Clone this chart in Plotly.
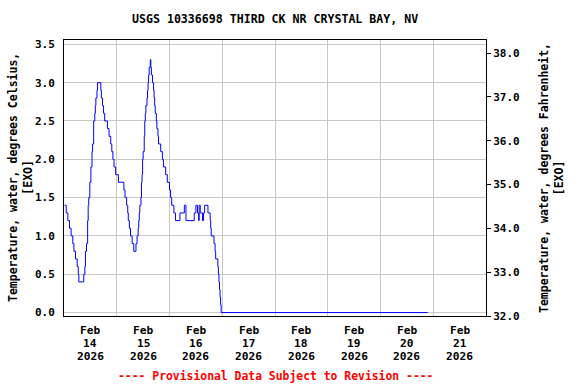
import plotly.graph_objects as go

# ---- data (15-min readings, water temperature, deg C) ----
times = [
    "2026-02-14 00:15", "2026-02-14 01:00", "2026-02-14 01:45", "2026-02-14 02:30",
    "2026-02-14 03:15", "2026-02-14 04:00", "2026-02-14 04:30", "2026-02-14 05:15",
    "2026-02-14 06:00", "2026-02-14 06:30", "2026-02-14 06:45", "2026-02-14 09:00",
    "2026-02-14 09:30", "2026-02-14 09:45", "2026-02-14 10:15", "2026-02-14 10:45",
    "2026-02-14 11:00", "2026-02-14 11:15", "2026-02-14 11:45", "2026-02-14 12:15",
    "2026-02-14 12:45", "2026-02-14 13:00", "2026-02-14 13:30", "2026-02-14 14:00",
    "2026-02-14 14:15", "2026-02-14 14:30", "2026-02-14 15:00", "2026-02-14 15:15",
    "2026-02-14 16:45", "2026-02-14 17:00", "2026-02-14 17:30", "2026-02-14 18:00",
    "2026-02-14 18:30", "2026-02-14 19:45", "2026-02-14 20:30", "2026-02-14 21:15",
    "2026-02-14 21:45", "2026-02-14 22:15", "2026-02-14 22:45", "2026-02-14 23:30",
    "2026-02-15 00:45", "2026-02-15 03:15", "2026-02-15 03:45", "2026-02-15 04:30",
    "2026-02-15 05:00", "2026-02-15 05:15", "2026-02-15 05:45", "2026-02-15 06:15",
    "2026-02-15 07:00", "2026-02-15 07:45", "2026-02-15 08:45", "2026-02-15 09:15",
    "2026-02-15 09:45", "2026-02-15 10:00", "2026-02-15 10:15", "2026-02-15 10:30",
    "2026-02-15 11:00", "2026-02-15 11:15", "2026-02-15 11:30", "2026-02-15 11:45",
    "2026-02-15 12:00", "2026-02-15 12:30", "2026-02-15 12:45", "2026-02-15 13:00",
    "2026-02-15 13:15", "2026-02-15 13:45", "2026-02-15 14:00", "2026-02-15 14:15",
    "2026-02-15 14:30", "2026-02-15 14:45", "2026-02-15 15:15", "2026-02-15 15:30",
    "2026-02-15 15:45", "2026-02-15 16:15", "2026-02-15 16:45", "2026-02-15 17:00",
    "2026-02-15 17:15", "2026-02-15 17:30", "2026-02-15 18:00", "2026-02-15 18:15",
    "2026-02-15 18:45", "2026-02-15 19:00", "2026-02-15 20:00", "2026-02-15 20:45",
    "2026-02-15 21:15", "2026-02-15 22:15", "2026-02-15 23:00", "2026-02-16 00:00",
    "2026-02-16 00:30", "2026-02-16 01:00", "2026-02-16 02:00", "2026-02-16 02:45",
    "2026-02-16 04:45", "2026-02-16 06:45", "2026-02-16 07:30", "2026-02-16 11:15",
    "2026-02-16 12:00", "2026-02-16 12:45", "2026-02-16 13:15", "2026-02-16 13:30",
    "2026-02-16 14:00", "2026-02-16 15:00", "2026-02-16 15:30", "2026-02-16 16:00",
    "2026-02-16 17:30", "2026-02-16 18:30", "2026-02-16 18:45", "2026-02-16 19:00",
    "2026-02-16 20:15", "2026-02-16 20:45", "2026-02-16 21:00", "2026-02-16 22:00",
    "2026-02-16 22:15", "2026-02-16 22:30", "2026-02-16 22:45", "2026-02-16 23:00",
    "2026-02-16 23:15", "2026-02-16 23:30", "2026-02-20 21:30",
]
temps_c = [
    1.4, 1.3, 1.2, 1.1,
    1.0, 0.9, 0.8, 0.7,
    0.6, 0.5, 0.4, 0.5,
    0.6, 0.8, 0.9, 1.2,
    1.4, 1.5, 1.7, 1.9,
    2.1, 2.2, 2.5, 2.6,
    2.7, 2.8, 2.9, 3.0,
    2.9, 2.8, 2.7, 2.6,
    2.5, 2.4, 2.3, 2.2,
    2.1, 2.0, 1.9, 1.8,
    1.7, 1.6, 1.5, 1.4,
    1.3, 1.2, 1.1, 1.0,
    0.9, 0.8, 0.9, 1.0,
    1.1, 1.2, 1.3, 1.4,
    1.5, 1.7, 1.8, 2.0,
    2.1, 2.3, 2.5, 2.6,
    2.7, 2.8, 2.9, 3.0,
    3.1, 3.2, 3.3, 3.2,
    3.1, 3.0, 2.9, 2.8,
    2.7, 2.6, 2.5, 2.4,
    2.3, 2.2, 2.1, 2.0,
    1.9, 1.8, 1.7, 1.6,
    1.5, 1.4, 1.3, 1.2,
    1.3, 1.4, 1.2, 1.3,
    1.4, 1.3, 1.2, 1.4,
    1.3, 1.2, 1.3, 1.4,
    1.3, 1.2, 1.1, 1.0,
    0.9, 0.8, 0.7, 0.6,
    0.5, 0.4, 0.3, 0.2,
    0.1, 0.0, 0.0,
]

day_labels = ["2026-02-14 12:00", "2026-02-15 12:00", "2026-02-16 12:00", "2026-02-17 12:00",
              "2026-02-18 12:00", "2026-02-19 12:00", "2026-02-20 12:00", "2026-02-21 12:00"]
day_month = ["Feb", "Feb", "Feb", "Feb", "Feb", "Feb", "Feb", "Feb"]
day_num = ["14", "15", "16", "17", "18", "19", "20", "21"]
day_year = ["2026", "2026", "2026", "2026", "2026", "2026", "2026", "2026"]
midnights = ["2026-02-14", "2026-02-15", "2026-02-16", "2026-02-17", "2026-02-18",
             "2026-02-19", "2026-02-20", "2026-02-21", "2026-02-22"]
c_ticks = [0.0, 0.5, 1.0, 1.5, 2.0, 2.5, 3.0, 3.5]
f_ticks = [32.0, 33.0, 34.0, 35.0, 36.0, 37.0, 38.0]

title_text = "USGS 10336698 THIRD CK NR CRYSTAL BAY, NV"
left_title = "Temperature, water, degrees Celsius,<br>[EXO]"
right_title = "Temperature, water, degrees Fahrenheit,<br>[EXO]"
footer_text = "---- Provisional Data Subject to Revision ----"

FONT = "DejaVu Sans Mono"
PLOT_H = 276
temps_f = [c * 9 / 5 + 32 for c in temps_c]

fig = go.Figure()
fig.add_trace(go.Scatter(x=times, y=temps_c, mode="lines", line=dict(color="#0000ff", width=1, shape="hv"),
                         showlegend=False, hoverinfo="x+y"))
fig.add_trace(go.Scatter(x=times, y=temps_f, mode="lines", line=dict(color="rgba(0,0,0,0)", width=0),
                         yaxis="y2", showlegend=False, hoverinfo="skip"))

annotations = [
    dict(text=title_text, xref="paper", yref="paper", x=0.5, y=1 + 21 / PLOT_H, xanchor="center", yanchor="middle",
         showarrow=False, font=dict(family=FONT, size=11.6, weight="bold", color="black")),
    dict(text=left_title, xref="paper", yref="paper", x=(20 - 64) / 422, y=0.5, xanchor="center", yanchor="middle",
         textangle=-90, showarrow=False, font=dict(family=FONT, size=11.5, weight="bold", color="black")),
    dict(text=right_title, xref="paper", yref="paper", x=(551 - 64) / 422, y=0.5, xanchor="center", yanchor="middle",
         textangle=-90, showarrow=False, font=dict(family=FONT, size=11.5, weight="bold", color="black")),
    dict(text=footer_text, xref="paper", yref="paper", x=0.5, y=-60 / PLOT_H, xanchor="center", yanchor="middle",
         showarrow=False, font=dict(family=FONT, size=11.4, weight="bold", color="#ff0000")),
]
for lines_, offset in ((day_month, 14), (day_num, 27.3), (day_year, 40.3)):
    for xv, txt in zip(day_labels, lines_):
        annotations.append(dict(text=txt, xref="x", yref="paper", x=xv, y=-offset / PLOT_H,
                                xanchor="center", yanchor="middle", showarrow=False,
                                font=dict(family=FONT, size=11.2, weight="bold", color="black")))

fig.update_layout(
    width=576, height=384,
    margin=dict(l=64, r=90, t=40, b=68, pad=0),
    paper_bgcolor="white", plot_bgcolor="white",
    font=dict(family=FONT, size=11, color="black", weight="bold"),
    showlegend=False,
    xaxis=dict(
        type="date", range=["2026-02-14 00:00", "2026-02-22 00:00"],
        tickmode="array", tickvals=day_labels, showticklabels=False,
        showgrid=False, ticks="", zeroline=False,
        showline=True, linecolor="black", linewidth=1, mirror=True,
        minor=dict(tickmode="array", tickvals=midnights, showgrid=True, gridcolor="#c8c8c8", gridwidth=1, ticks=""),
    ),
    yaxis=dict(
        range=[-0.045, 3.557], tickmode="array", tickvals=c_ticks,
        ticktext=[f"{v:.1f}" for v in c_ticks],
        showgrid=True, gridcolor="#c8c8c8", gridwidth=1, zeroline=False,
        showline=True, linecolor="black", linewidth=1, mirror=True, ticks="",
        ticklabelstandoff=6,
        tickfont=dict(family=FONT, size=11, weight="bold"),
    ),
    yaxis2=dict(
        overlaying="y", side="right", range=[32.0, 38.3], tickmode="array", tickvals=f_ticks,
        ticktext=[f"{v:.1f}" for v in f_ticks], showgrid=False, zeroline=False,
        ticks="outside", ticklen=4, tickcolor="black", showline=False,
        tickfont=dict(family=FONT, size=11, weight="bold"),
    ),
    annotations=annotations,
)

fig.write_html("out.html", config={"displayModeBar": False},
               post_script="document.body.style.margin='0px';document.body.style.overflow='hidden';")
